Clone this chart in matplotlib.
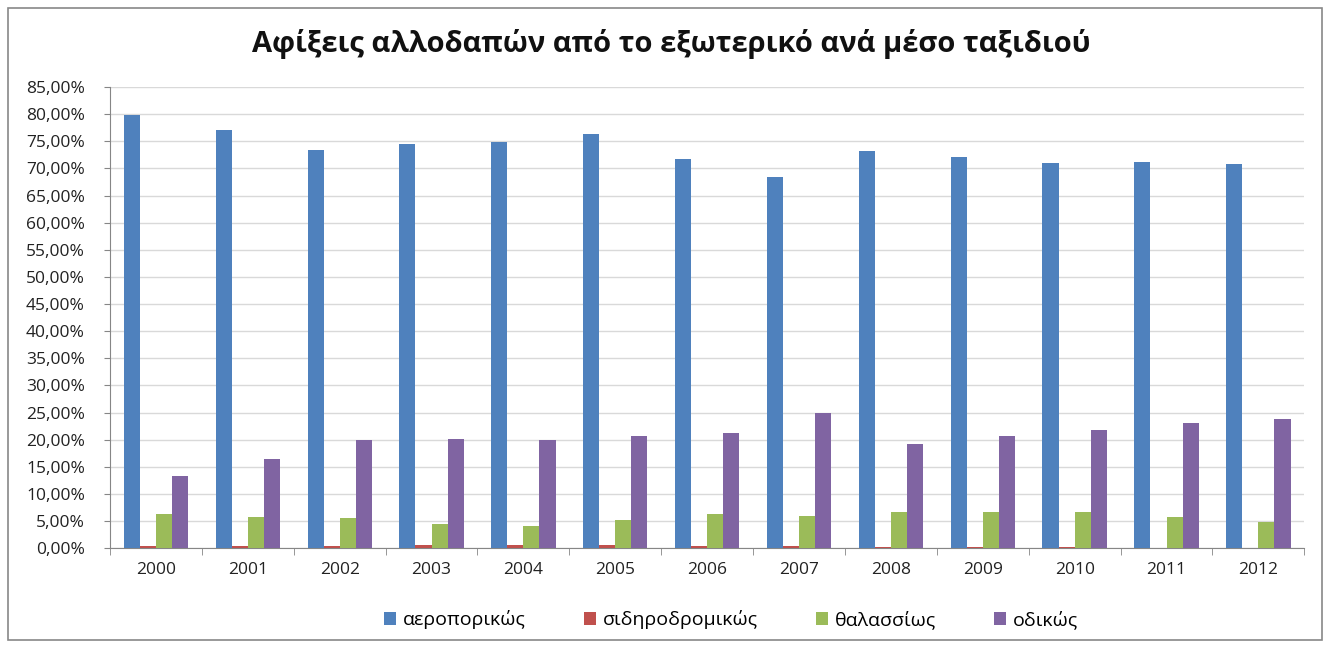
import numpy as np
import matplotlib
matplotlib.use("Agg")
import matplotlib.pyplot as plt
from matplotlib.ticker import FuncFormatter, MultipleLocator
from matplotlib.patches import Rectangle

plt.rcParams['font.family'] = ['Open Sans', 'DejaVu Sans']

years = ['2000', '2001', '2002', '2003', '2004', '2005', '2006',
         '2007', '2008', '2009', '2010', '2011', '2012']
# shares of arrivals (%)
air = [79.9, 77.1, 73.4, 74.5, 74.9, 76.4, 71.8, 68.5, 73.2, 72.1, 71.0, 71.2, 70.8]
rail = [0.4, 0.4, 0.4, 0.6, 0.6, 0.6, 0.4, 0.4, 0.3, 0.3, 0.3, 0.1, 0.05]
sea = [6.3, 5.7, 5.5, 4.5, 4.1, 5.2, 6.3, 6.0, 6.7, 6.6, 6.7, 5.7, 4.9]
road = [13.3, 16.4, 19.9, 20.2, 19.9, 20.7, 21.3, 24.9, 19.3, 20.7, 21.8, 23.0, 23.9]

labels = ['αεροπορικώς', 'σιδηροδρομικώς', 'θαλασσίως', 'οδικώς']
colors = ['#4F81BD', '#C0504D', '#9BBB59', '#8064A2']
series = [air, rail, sea, road]

fig = plt.figure(figsize=(13.3, 6.45), dpi=100)
ax = fig.add_axes([0.0827, 0.150, 0.898, 0.715])

x = np.arange(len(years))
w = 0.175
for i, (vals, lab, col) in enumerate(zip(series, labels, colors)):
    ax.bar(x + (i - 1.5) * w, vals, width=w, color=col, label=lab, zorder=3)

ax.set_xlim(-0.5, len(years) - 0.5)
ax.set_ylim(0, 85)
ax.yaxis.set_major_locator(MultipleLocator(5))
ax.yaxis.set_major_formatter(FuncFormatter(lambda v, p: ('%.2f' % v).replace('.', ',') + '%'))
ax.set_xticks(x)
ax.set_xticklabels(years)
ax.set_xticks(np.arange(-0.5, len(years)), minor=True)
ax.tick_params(axis='x', which='major', length=0, pad=10, labelsize=12.5, colors='#222222')
ax.tick_params(axis='x', which='minor', length=5, color='#868686')
ax.tick_params(axis='y', length=4, pad=14, color='#868686', labelsize=12.5, labelcolor='#222222')

ax.grid(axis='y', color='#D9D9D9', linewidth=1, zorder=0)
for s in ['top', 'right']:
    ax.spines[s].set_visible(False)
for s in ['left', 'bottom']:
    ax.spines[s].set_color('#868686')

fig.suptitle('Αφίξεις αλλοδαπών από το εξωτερικό ανά μέσο ταξιδιού',
             x=0.505, y=0.955, fontsize=21, fontweight='bold', color='#111111')

ax.legend(loc='center', bbox_to_anchor=(0.52, -0.155), ncol=4, frameon=False,
          fontsize=14, handlelength=0.6, handleheight=0.6, columnspacing=3.0,
          handletextpad=0.35)

fig.patches.append(Rectangle((0.006, 0.008), 0.988, 0.98, transform=fig.transFigure,
                             fill=False, edgecolor='#888888', linewidth=1.2))

fig.savefig('out.png', dpi=100)
